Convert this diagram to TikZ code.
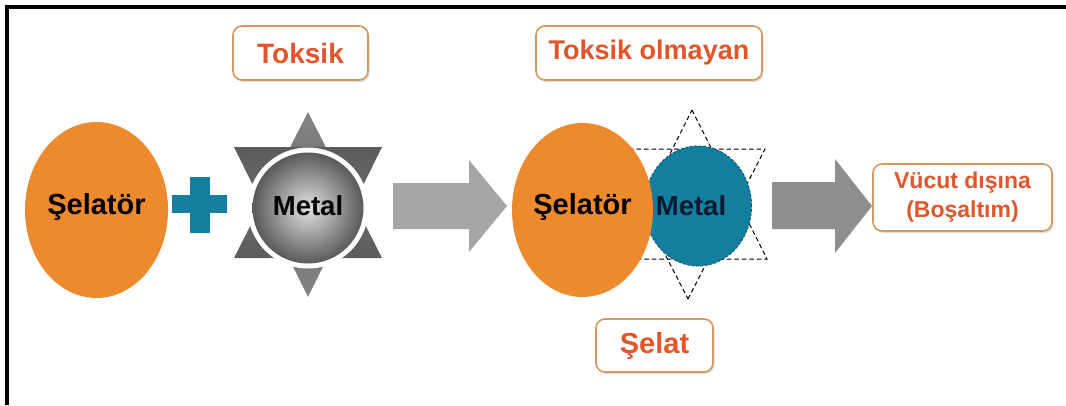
\documentclass[tikz,border=0pt]{standalone}
\usepackage{fontspec}
\setmainfont{Liberation Sans}
\usetikzlibrary{shadows,shapes.geometric}
\definecolor{orfill}{HTML}{EE8A2E}
\definecolor{tealc}{HTML}{137E9E}
\definecolor{tealdark}{HTML}{0E5A72}
\definecolor{boxborder}{HTML}{D39A5E}
\definecolor{boxtext}{HTML}{E0562A}
\definecolor{stargray}{HTML}{666666}
\definecolor{arrowA}{HTML}{A6A6A6}
\definecolor{arrowB}{HTML}{8E8E8E}
\definecolor{navytext}{HTML}{0A1A30}
\begin{document}
\begin{tikzpicture}[x=1pt,y=-1pt,
  lbl/.style={font=\fontsize{29}{32}\selectfont\bfseries},
  mlbl/.style={font=\fontsize{27.5}{30}\selectfont\bfseries},
  tagbox/.style={draw=boxborder, line width=1.6pt, rounded corners=9pt, fill=white,
    text=boxtext, inner sep=0pt, font=\fontsize{28}{32}\selectfont\bfseries,
    drop shadow={shadow xshift=1.5pt, shadow yshift=-2pt, opacity=0.25}},
  chel/.style={ellipse, fill=orfill, inner sep=0pt, minimum width=143pt, minimum height=176pt},
  dstar/.style={dash pattern=on 4.5pt off 3pt, line width=1pt}
]
\useasboundingbox (0,0) rectangle (1066,405);
\fill[white] (0,0) rectangle (1066,405);
% frame
\draw[line width=4pt, line join=miter] (7,405) -- (7,7) -- (1066,7);

% ---- left group ----
\node[chel] (sel1) at (96.5,210) {};
\node[lbl] (sel1lbl) at (96.5,207) {Şelatör};

% plus
\fill[tealc] (172,195) rectangle (227,213);
\fill[tealc] (190,177) rectangle (210,233);

% gray star
\shade[top color=stargray!80!white, bottom color=stargray!90!black] (308,112) -- (382,258) -- (234,258) -- cycle;
\shade[top color=stargray!90!black, bottom color=stargray!80!white] (308,297) -- (382,147) -- (234,147) -- cycle;
\node[circle, fill=white, inner sep=0pt, minimum size=121pt] (ring) at (308,208) {};
\node[circle, inner sep=0pt, minimum size=111pt, shade, inner color=gray!22, outer color=gray!70!black] (metal1) at (308,208) {};
\node[mlbl] (metal1lbl) at (308,206) {Metal};

\node[tagbox, minimum width=135pt, minimum height=54pt] (toksik) at (300.5,53) {Toksik};

% arrow 1
\fill[arrowA] (393,183) -- (469,183) -- (469,160) -- (507,206) -- (469,252) -- (469,229) -- (393,229) -- cycle;

% ---- middle group ----
\draw[dstar] (692,110) -- (767,259) -- (617,259) -- cycle;
\draw[dstar] (688,299) -- (765,149) -- (611,149) -- cycle;
\node[ellipse, fill=tealc, draw=tealdark, dash pattern=on 3pt off 1.5pt, line width=1pt, inner sep=0pt, minimum width=107pt, minimum height=120pt] (metal2) at (698,206) {};
\node[chel, minimum width=141pt, minimum height=174pt] (sel2) at (582.5,210) {};
\node[lbl] (sel2lbl) at (582.5,207) {Şelatör};
\node[mlbl, text=navytext] (metal2lbl) at (691,206) {Metal};

\node[tagbox, minimum width=226pt, minimum height=54pt, font=\fontsize{27}{32}\selectfont\bfseries] (toksikol) at (649,53) {Toksik olmayan};
\node[tagbox, minimum width=117pt, minimum height=53pt, font=\fontsize{29}{32}\selectfont\bfseries] (selat) at (654.5,345.5) {Şelat};

% arrow 2
\fill[arrowB] (772,182) -- (835,182) -- (835,159) -- (872,206) -- (835,253) -- (835,229) -- (772,229) -- cycle;

\node[tagbox, minimum width=179pt, minimum height=67pt, align=center, font=\fontsize{23}{29}\selectfont\bfseries] (vucut) at (962.5,197.5) {Vücut dışına\\(Boşaltım)};
\end{tikzpicture}
\end{document}
